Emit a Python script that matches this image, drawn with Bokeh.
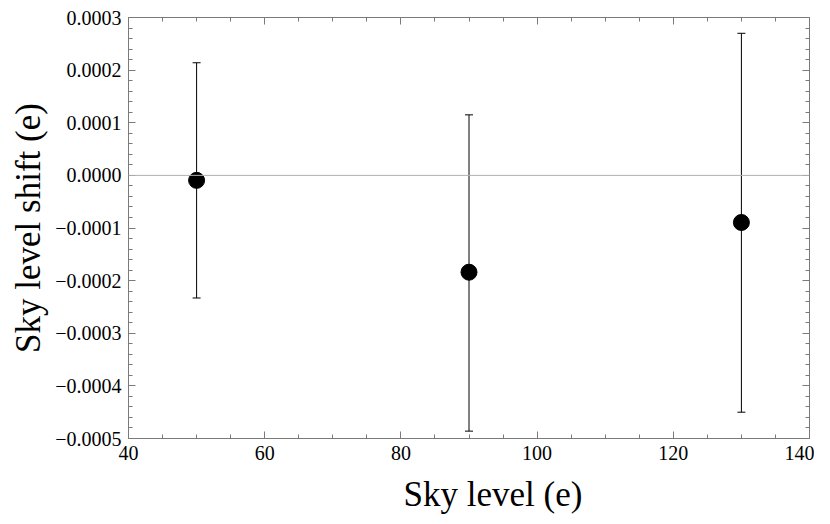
from bokeh.plotting import figure
from bokeh.models import (ColumnDataSource, Whisker, TeeHead, Span, LinearAxis,
                          FixedTicker, CustomJSTickFormatter, Range1d, Title)
from bokeh.embed import file_html
from bokeh.resources import INLINE

# Data
sky_level = [50, 90, 130]
shift = [-0.0000095, -0.000184, -0.0000895]
err_upper = [0.000214, 0.000115, 0.00027]
err_lower = [-0.000233, -0.000486, -0.00045]

x_ticks = [40, 60, 80, 100, 120, 140]
x_minor = [v for v in range(40, 141, 5)]
y_ticks = [-0.0005, -0.0004, -0.0003, -0.0002, -0.0001, 0.0, 0.0001, 0.0002, 0.0003]
y_minor = [i * 0.00002 for i in range(-25, 16)]

x_label = "Sky level (e)"
y_label = "Sky level shift (e)"

FONT = "Liberation Serif"
FRAME = "#7a7a7a"

p = figure(frame_width=681, frame_height=421, output_backend="svg", toolbar_location=None,
           x_range=Range1d(40, 140), y_range=Range1d(-0.0005, 0.0003),
           min_border_left=128, min_border_right=5, min_border_top=17,
           min_border_bottom=70)
p.xgrid.visible = False
p.ygrid.visible = False
p.outline_line_color = FRAME
p.background_fill_color = "white"
p.border_fill_color = "white"

fmt_y = CustomJSTickFormatter(code="""
if (Math.abs(tick) < 1e-12) { return '0.0000'; }
return (tick < 0 ? '\u2212' : '') + Math.abs(tick).toFixed(4);
""")

def style(ax, labels=True):
    ax.axis_line_color = FRAME
    ax.major_tick_line_color = FRAME
    ax.minor_tick_line_color = FRAME
    ax.major_tick_in = 7
    ax.major_tick_out = 0
    ax.minor_tick_in = 4
    ax.minor_tick_out = 0
    ax.major_label_text_font = FONT
    ax.major_label_text_font_size = "20px"
    ax.major_label_text_color = "black"
    ax.major_label_standoff = 7
    if not labels:
        ax.major_label_text_alpha = 0
        ax.major_label_text_font_size = "1px"
        ax.major_label_standoff = 0

xt = FixedTicker(ticks=x_ticks, minor_ticks=x_minor)
yt = FixedTicker(ticks=y_ticks, minor_ticks=y_minor)

p.xaxis.ticker = xt
p.yaxis.ticker = yt
p.yaxis.formatter = fmt_y
style(p.xaxis[0])
style(p.yaxis[0])

top = LinearAxis(ticker=xt)
style(top, labels=False)
p.add_layout(top, "above")
right = LinearAxis(ticker=yt)
style(right, labels=False)
p.add_layout(right, "right")

p.add_layout(Title(text=x_label, align="left", offset=275, standoff=21,
                   text_font=FONT, text_font_size="35px", text_font_style="normal",
                   text_color="black"), "below")
p.add_layout(Title(text=y_label, align="center", standoff=9,
                   text_font=FONT, text_font_size="35px", text_font_style="normal",
                   text_color="black"), "left")

p.add_layout(Span(location=0, dimension="width", line_color="#b0b0b0", line_width=1))

src = ColumnDataSource(dict(x=sky_level, y=shift, upper=err_upper, lower=err_lower))
w = Whisker(source=src, base="x", upper="upper", lower="lower", line_color="black",
            line_width=1,
            upper_head=TeeHead(size=8, line_color="black", line_width=1),
            lower_head=TeeHead(size=8, line_color="black", line_width=1))
p.add_layout(w)
p.scatter("x", "y", source=src, size=16, color="black")

open("out.html", "w").write(file_html(p, INLINE))
